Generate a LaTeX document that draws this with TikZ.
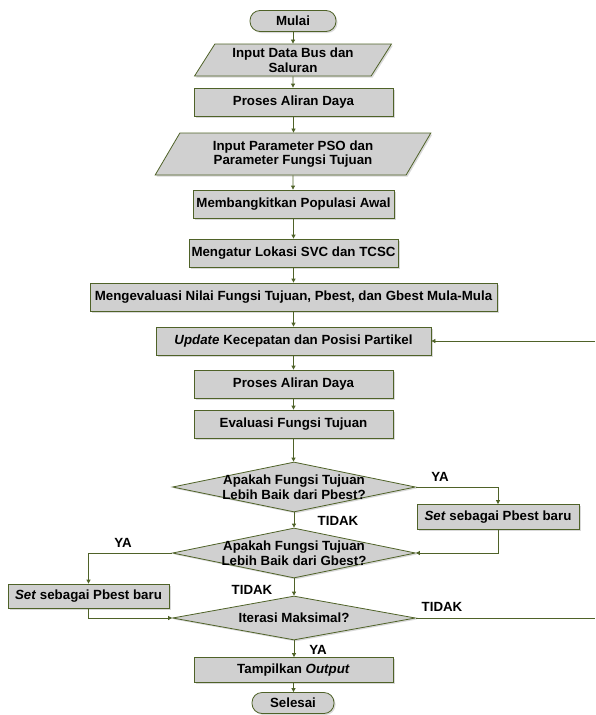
\documentclass[tikz,border=0pt]{standalone}
\usepackage{fontspec}
\setmainfont{Liberation Sans}
\usetikzlibrary{shapes.geometric,arrows.meta,shadows}
\definecolor{garis}{RGB}{79,98,40}
\definecolor{isi}{RGB}{208,208,208}
\begin{document}
\begin{tikzpicture}[x=1pt,y=-1pt,
    huruf/.style={font=\bfseries\fontsize{13.3}{14.5}\selectfont},
    dasar/.style={huruf,draw=garis,line width=0.8pt,fill=isi,inner sep=0pt,
        drop shadow={shadow xshift=1.5pt,shadow yshift=-1.5pt,opacity=0.3}},
    proses/.style={dasar,rectangle,minimum height=28pt},
    terminal/.style={dasar,rectangle,rounded corners=10pt,minimum height=21pt},
    data/.style={dasar,trapezium,trapezium left angle=57,trapezium right angle=123,
        trapezium stretches=true,align=center},
    cek/.style={dasar,diamond,minimum width=243pt},
    ket/.style={huruf,align=center},
    alur/.style={draw=garis,line width=0.8pt,-{Triangle[length=4pt,width=4pt]}}]
    \useasboundingbox (0,0) rectangle (595,715);
    \node[terminal,minimum width=86pt] (mulai) at (293,21) {Mulai};
    \node[data,minimum width=197pt,minimum height=32pt] (input1) at (293,60) {Input Data Bus dan\\Saluran};
    \node[proses,minimum width=199pt] (aliran1) at (293.5,102) {Proses Aliran Daya};
    \node[data,minimum width=276pt,minimum height=42pt] (input2) at (293,154) {Input Parameter PSO dan\\Parameter Fungsi Tujuan};
    \node[proses,minimum width=201pt] (populasi) at (293.5,204) {Membangkitkan Populasi Awal};
    \node[proses,minimum width=209pt] (lokasi) at (293.5,253) {Mengatur Lokasi SVC dan TCSC};
    \node[proses,minimum width=407pt] (awal) at (293.5,297) {Mengevaluasi Nilai Fungsi Tujuan, Pbest, dan Gbest Mula-Mula};
    \node[proses,minimum width=275pt] (update) at (293.5,341) {\textit{Update} Kecepatan dan Posisi Partikel};
    \node[proses,minimum width=199pt] (aliran2) at (293.5,384) {Proses Aliran Daya};
    \node[proses,minimum width=199pt] (evaluasi) at (293.5,424) {Evaluasi Fungsi Tujuan};
    \node[cek,minimum height=50pt,label={[ket]center:Apakah Fungsi Tujuan\\Lebih Baik dari Pbest?}] (pbest) at (294,487) {};
    \node[proses,minimum width=162pt,minimum height=25pt] (setp) at (498,517) {\textit{Set} sebagai Pbest baru};
    \node[cek,minimum height=50pt,label={[ket]center:Apakah Fungsi Tujuan\\Lebih Baik dari Gbest?}] (gbest) at (294,553) {};
    \node[proses,minimum width=161pt,minimum height=24pt] (setg) at (88.5,596) {\textit{Set} sebagai Pbest baru};
    \node[cek,minimum height=44pt,label={[ket]center:Iterasi Maksimal?}] (iterasi) at (294,618) {};
    \node[proses,minimum width=199pt,minimum height=25pt] (tampil) at (293.5,670) {Tampilkan \textit{Output}};
    \node[terminal,minimum width=82pt] (selesai) at (293,703) {Selesai};
    \coordinate (kanan1) at (595,341);
    \coordinate (kanan2) at (595,618);
    % jalur utama
    \draw[alur] (mulai) -- (mulai |- input1.north);
    \draw[alur] (input1) -- (input1 |- aliran1.north);
    \draw[alur] (aliran1) -- (aliran1 |- input2.north);
    \draw[alur] (input2) -- (input2 |- populasi.north);
    \draw[alur] (populasi) -- (populasi |- lokasi.north);
    \draw[alur] (lokasi) -- (lokasi |- awal.north);
    \draw[alur] (awal) -- (awal |- update.north);
    \draw[alur] (update) -- (update |- aliran2.north);
    \draw[alur] (aliran2) -- (aliran2 |- evaluasi.north);
    \draw[alur] (evaluasi) -- (evaluasi |- pbest.north);
    \draw[alur] (pbest) -- (pbest |- gbest.north);
    \draw[alur] (gbest) -- (gbest |- iterasi.north);
    \draw[alur] (iterasi) -- (iterasi |- tampil.north);
    \draw[alur] (tampil) -- (tampil |- selesai.north);
    % cabang
    \draw[alur] (pbest.east) -| (setp.north);
    \draw[alur] (setp.south) |- (gbest.east);
    \draw[alur] (gbest.west) -| (setg.north);
    \draw[alur] (setg.south) |- (iterasi.west);
    \draw[alur,-] (iterasi.east) -- (kanan2);
    \draw[alur] (kanan1) -- (update.east);
    \node[ket] (ya1) at (440,477) {YA};
    \node[ket] (tidak1) at (338,521) {TIDAK};
    \node[ket] (ya2) at (123,543) {YA};
    \node[ket] (tidak2) at (252,590) {TIDAK};
    \node[ket] (tidak3) at (442,607) {TIDAK};
    \node[ket] (ya3) at (318,650) {YA};
\end{tikzpicture}
\end{document}
